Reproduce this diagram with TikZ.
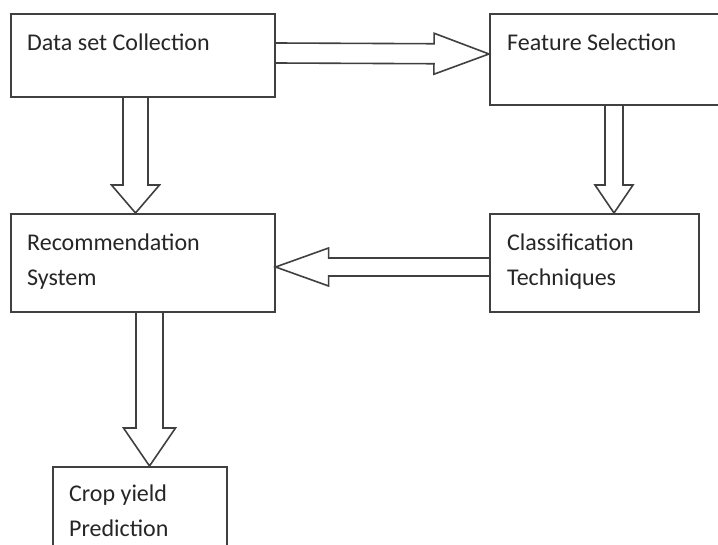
\documentclass[tikz,border=0pt]{standalone}
\usepackage{fontspec}
\setmainfont{Carlito}
\usetikzlibrary{calc,positioning}

% hollow block arrow from #1 to #2: shaft half width #3, head half width #4, head length #5
\newcommand{\blockarrow}[5]{%
  \draw[arrowline] let \p1=(#1), \p2=(#2),
      \n1={atan2(\y2-\y1,\x2-\x1)}, \n2={veclen(\x2-\x1,\y2-\y1)} in
    [shift={(\p1)}, rotate=\n1]
    (0,#3) -- ({\n2-#5},#3) -- ({\n2-#5},#4) -- (\n2,0)
    -- ({\n2-#5},-#4) -- ({\n2-#5},-#3) -- (0,-#3);
}

\tikzset{
  stepbox/.style={draw=black!75, line width=1.6pt, rectangle, inner sep=0pt, anchor=north west},
  boxtext/.style={inner sep=0pt, anchor=north west, align=left, text=black!85,
    font=\fontsize{24}{35}\selectfont},
  arrowline/.style={draw=black!75, line width=1.6pt, line join=miter}
}

\begin{document}
\begin{tikzpicture}[x=1pt,y=1pt]
\useasboundingbox (0,0) rectangle (718,-545);
\clip (0,0) rectangle (718,-545);
\fill[white] (0,0) rectangle (718,-545);

% boxes
\node[stepbox, minimum width=264pt, minimum height=83pt] (data) at (10,-13) {};
\node[stepbox, minimum width=240pt, minimum height=91pt] (feature) at (489,-13) {};
\node[stepbox, minimum width=264pt, minimum height=98pt] (recom) at (10,-213) {};
\node[stepbox, minimum width=209pt, minimum height=98pt] (classif) at (489,-213) {};
\node[stepbox, minimum width=174pt, minimum height=100pt] (crop) at (52,-466) {};

% texts
\node[boxtext] (data-t) at ([shift={(17,-21)}]data.north west) {Data set Collection};
\node[boxtext] (feature-t) at ([shift={(18,-21)}]feature.north west) {Feature Selection};
\node[boxtext] (recom-t) at ([shift={(17,-21)}]recom.north west) {Recommendation\\System};
\node[boxtext] (classif-t) at ([shift={(18,-21)}]classif.north west) {Classification\\Techniques};
\node[boxtext] (crop-t) at ([shift={(17,-19)}]crop.north west) {Crop yield\\Prediction};

% arrows
\blockarrow{[yshift=-40pt]data.north east}{[yshift=-41pt]feature.north west}{10}{20.5}{55}
\blockarrow{[xshift=125.5pt]data.south west}{[xshift=125.5pt]recom.north west}{12.5}{24}{28}
\blockarrow{[xshift=125pt]feature.south west}{[xshift=125pt]classif.north west}{9}{19}{28}
\blockarrow{[yshift=-54pt]classif.north west}{[yshift=-54pt]recom.north east}{9}{19}{53}
\blockarrow{[xshift=139.5pt]recom.south west}{[xshift=97.5pt]crop.north west}{13.5}{26}{38}
\end{tikzpicture}
\end{document}
